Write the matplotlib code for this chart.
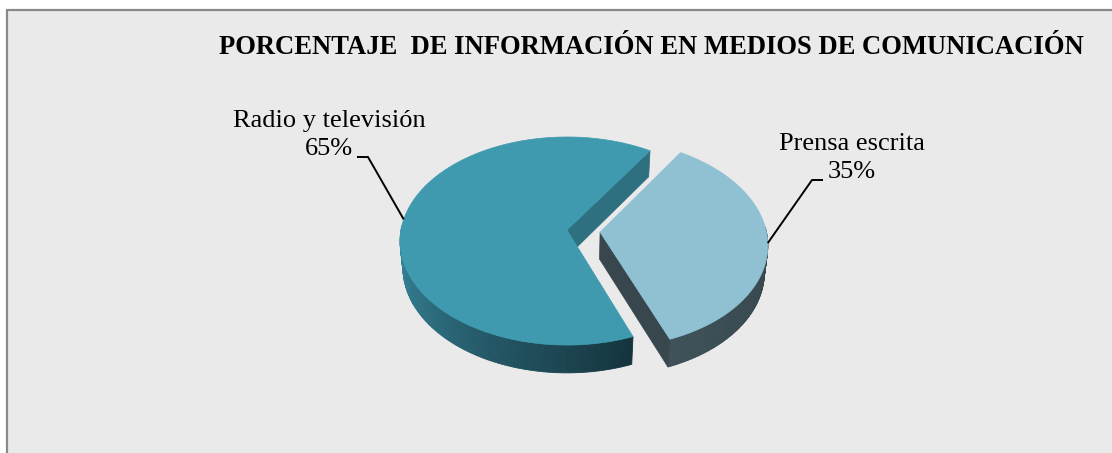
import numpy as np
import matplotlib
matplotlib.use("Agg")
import matplotlib.pyplot as plt
from matplotlib.colors import to_rgb
from matplotlib.patches import Rectangle

# ---------------- data ----------------
title = "PORCENTAJE  DE INFORMACIÓN EN MEDIOS DE COMUNICACIÓN"
categories = ["Prensa escrita", "Radio y televisión"]
values = [35, 65]
explode = [0.2, 0.0]

# ---------------- style ----------------
top_colors = ["#8fc1d3", "#3f9ab0"]
side_colors = [("#3e5158", "#36464c"), ("#3a8ea3", "#14333d")]
cut_colors = ["#37474d", "#2e6f80"]
start_angle = -69.0          # degrees, first slice starts here, counter-clockwise

# camera / layout (pixels)
W, H = 1112, 453
cx, cy = 567, 230
f, D = 1230.0, 7.41
phi = np.deg2rad(38.3)
sphi, cphi = np.sin(phi), np.cos(phi)
depth = 0.21

def proj(X, Y, Z):
    X, Y, Z = np.asarray(X, float), np.asarray(Y, float), np.asarray(Z, float)
    dist = D + Y * cphi - Z * sphi
    u = f * X / dist
    v = f * (Y * sphi + Z * cphi) / dist
    return cx + u, cy - v

fig = plt.figure(figsize=(W / 100, H / 100), dpi=100)
ax = fig.add_axes([0, 0, 1, 1])
ax.set_xlim(0, W)
ax.set_ylim(H, 0)
ax.axis("off")

# background frame
ax.add_patch(Rectangle((7, 9.5), W + 20, H + 20, facecolor="#eaeaea",
                       edgecolor="#8a8a8a", linewidth=1.6, zorder=0))

fracs = np.array(values, float) / sum(values)
angles = start_angle + np.concatenate([[0], np.cumsum(fracs)]) * 360.0

def lerp(c1, c2, t):
    a, b = np.array(to_rgb(c1)), np.array(to_rgb(c2))
    return tuple(a + (b - a) * t)

# draw big slice first (behind), then the exploded one
order = [1, 0]
z = 1
for i in order:
    a0, a1 = angles[i], angles[i + 1]
    mid = np.deg2rad((a0 + a1) / 2)
    ox, oy = explode[i] * np.cos(mid), explode[i] * np.sin(mid)
    th = np.deg2rad(np.linspace(a0, a1, 240))

    # outer wall (front part), shaded with angle
    vis = [(t0, t1) for t0, t1 in zip(th[:-1], th[1:]) if np.sin((t0 + t1) / 2) < 0.05]
    if vis:
        tv0, tv1 = vis[0][0], vis[-1][1]
        for t0, t1 in vis:
            tt = ((t0 + t1) / 2 - tv0) / max(tv1 - tv0, 1e-9)
            col = lerp(side_colors[i][0], side_colors[i][1], tt)
            Xs = ox + np.cos([t0, t1, t1, t0])
            Ys = oy + np.sin([t0, t1, t1, t0])
            Zs = np.array([0, 0, -depth, -depth])
            px, py = proj(Xs, Ys, Zs)
            ax.fill(px, py, color=col, linewidth=0.6, edgecolor=col, zorder=z)
    z += 1

    # cut faces that face the viewer
    for ang, sgn in ((a0, -1), (a1, 1)):
        t = np.deg2rad(ang)
        ny = np.sin(t + sgn * np.pi / 2)
        if ny < 0:
            Xs = ox + np.array([0, np.cos(t), np.cos(t), 0])
            Ys = oy + np.array([0, np.sin(t), np.sin(t), 0])
            Zs = np.array([0, 0, -depth, -depth])
            px, py = proj(Xs, Ys, Zs)
            ax.fill(px, py, color=cut_colors[i], linewidth=0.5,
                    edgecolor=cut_colors[i], zorder=z)
    z += 1

    # top face
    Xs = ox + np.concatenate([[0], np.cos(th)])
    Ys = oy + np.concatenate([[0], np.sin(th)])
    px, py = proj(Xs, Ys, np.zeros_like(Xs))
    ax.fill(px, py, color=top_colors[i], linewidth=0.5,
            edgecolor=top_colors[i], zorder=z)
    z += 1

# ---------------- labels ----------------
serif = ["Liberation Serif", "DejaVu Serif"]
ax.text(651.5, 47, title, ha="center", va="center", fontsize=19.2,
        fontweight="bold", family=serif, zorder=20)

label_pos = {0: (852, 158), 1: (329, 135)}
leader_knee = {0: (823, 180, 812), 1: (357, 157, 368)}
for i in range(len(values)):
    a0, a1 = angles[i], angles[i + 1]
    mid = np.deg2rad((a0 + a1) / 2)
    ox, oy = explode[i] * np.cos(mid), explode[i] * np.sin(mid)
    rx, ry = proj(ox + np.cos(mid), oy + np.sin(mid), 0.0)
    kx0, ky, kx1 = leader_knee[i]
    ax.plot([kx0, kx1, rx], [ky, ky, ry], color="black", linewidth=1.4,
            zorder=21, solid_capstyle="butt")
    lx, ly = label_pos[i]
    ax.text(lx, ly, f"{categories[i]}\n{values[i]}%", ha="center", va="center",
            fontsize=19, family=serif, linespacing=1.35, zorder=22)

fig.savefig("out.png", dpi=100)
